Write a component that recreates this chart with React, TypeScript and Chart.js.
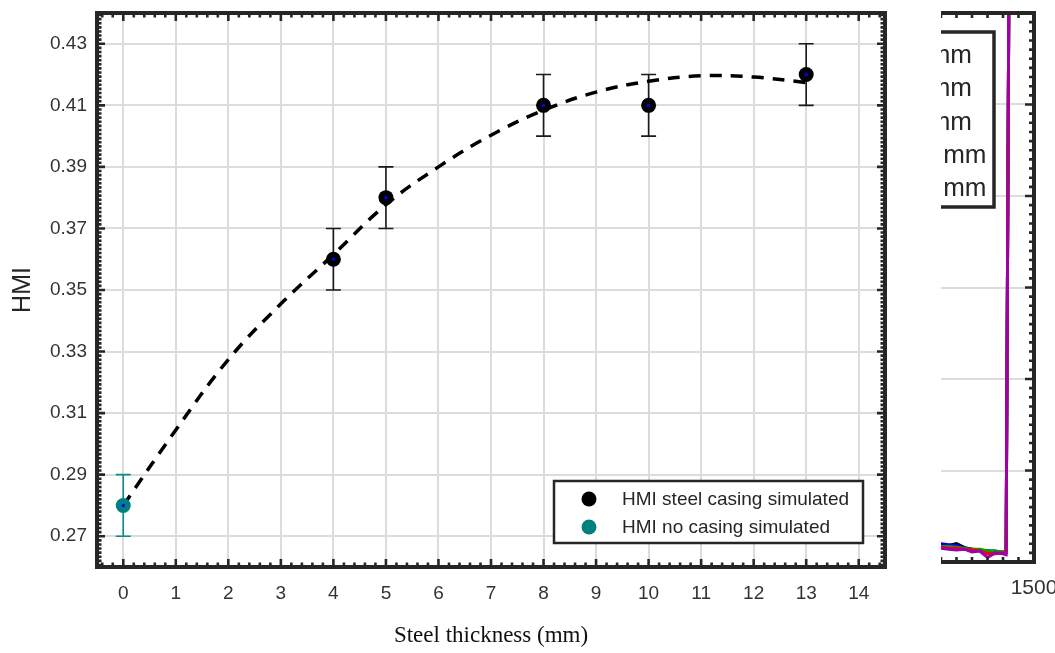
import { useEffect, useRef } from "react";
import { Chart, registerables } from "chart.js";

Chart.register(...registerables);

// ---------- main chart data ----------
const thicknessMm = [4, 5, 8, 10, 13];
const hmiSteel = [0.36, 0.38, 0.41, 0.41, 0.42];
const hmiSteelErr = [0.01, 0.01, 0.01, 0.01, 0.01];
const noCasingMm = [0];
const hmiNoCasing = [0.28];
const hmiNoCasingErr = [0.01];
const fitMm = [0, 1, 2, 3, 4, 5, 6, 7, 8, 9, 10, 11, 12, 13];
const fitHmi = [0.28, 0.3045, 0.3274, 0.3455, 0.3615, 0.3777, 0.39, 0.4003, 0.4084, 0.4143, 0.4178, 0.4196, 0.4192, 0.4174];
const xTickValues = [0, 1, 2, 3, 4, 5, 6, 7, 8, 9, 10, 11, 12, 13, 14];
const yTickValues = [0.27, 0.29, 0.31, 0.33, 0.35, 0.37, 0.39, 0.41, 0.43];
const legendLabels = ["HMI steel casing simulated", "HMI no casing simulated"];

// ---------- side (cropped) chart data ----------
const sideX = [1380, 1390, 1400, 1410, 1420, 1430, 1440, 1450, 1460, 1464, 1468];
const side4mm = [0.19, 0.18, 0.2, 0.16, 0.14, 0.13, 0.12, 0.11, 0.11, 0.11, 7];
const side5mm = [0.2, 0.19, 0.18, 0.15, 0.14, 0.13, 0.12, 0.12, 0.1, 0.1, 7];
const side8mm = [0.17, 0.17, 0.16, 0.15, 0.14, 0.14, 0.12, 0.12, 0.11, 0.11, 7];
const side10mm = [0.16, 0.15, 0.15, 0.14, 0.13, 0.12, 0.09, 0.09, 0.1, 0.1, 7];
const side13mm = [0.15, 0.14, 0.13, 0.14, 0.11, 0.12, 0.05, 0.1, 0.09, 0.08, 7];
const sideLabels = ["4 mm", "5 mm", "8 mm", "10 mm", "13 mm"];
const sideXTicks = [1500];
const sideYGrid = [1, 2, 3, 4, 5];

const SANS = "'Liberation Sans', Arial, Helvetica, sans-serif";
const SERIF = "'Liberation Serif', 'Times New Roman', serif";
const FRAME = "#262626";
const TEAL = "#008080";
const sideColors = ["#000000", "#0000ff", "#00a000", "#ff0000", "#a000a8"];

type FrameCfg = {
  xAnchor: number; xStep: number; xMajors: number[]; xMajorLen: number; xMinorLen: number;
  yAnchor: number; yStep: number; yMajors: number[]; yMajorLen: number; yMinorLen: number;
  lineWidth: number; tickWidth: number;
};

function makeFramePlugin(cfg: FrameCfg) {
  return {
    id: "frame",
    afterDatasetsDraw(chart: any) {
      const { ctx, chartArea: a, scales } = chart;
      const xs = scales.x;
      const ys = scales.y;
      ctx.save();
      ctx.strokeStyle = FRAME;
      ctx.lineWidth = cfg.tickWidth;
      ctx.lineCap = "butt";
      ctx.beginPath();
      const k0 = Math.ceil((xs.min - cfg.xAnchor) / cfg.xStep - 1e-6);
      const k1 = Math.floor((xs.max - cfg.xAnchor) / cfg.xStep + 1e-6);
      for (let k = k0; k <= k1; k++) {
        const v = cfg.xAnchor + k * cfg.xStep;
        const px = xs.getPixelForValue(v);
        if (px < a.left + 2 || px > a.right - 2) continue;
        const major = cfg.xMajors.some((m) => Math.abs(m - v) < cfg.xStep * 0.25);
        const len = major ? cfg.xMajorLen : cfg.xMinorLen;
        ctx.moveTo(px, a.bottom);
        ctx.lineTo(px, a.bottom - len);
        ctx.moveTo(px, a.top);
        ctx.lineTo(px, a.top + len);
      }
      const j0 = Math.ceil((ys.min - cfg.yAnchor) / cfg.yStep - 1e-6);
      const j1 = Math.floor((ys.max - cfg.yAnchor) / cfg.yStep + 1e-6);
      for (let j = j0; j <= j1; j++) {
        const v = cfg.yAnchor + j * cfg.yStep;
        const py = ys.getPixelForValue(v);
        if (py < a.top + 2 || py > a.bottom - 2) continue;
        const major = cfg.yMajors.some((m) => Math.abs(m - v) < cfg.yStep * 0.25);
        const len = major ? cfg.yMajorLen : cfg.yMinorLen;
        ctx.moveTo(a.left, py);
        ctx.lineTo(a.left + len, py);
        ctx.moveTo(a.right, py);
        ctx.lineTo(a.right - len, py);
      }
      ctx.stroke();
      ctx.lineWidth = cfg.lineWidth;
      ctx.strokeRect(a.left, a.top, a.right - a.left, a.bottom - a.top);
      ctx.restore();
    },
  };
}

const errorBarPlugin = {
  id: "errorBars",
  beforeDatasetsDraw(chart: any) {
    const { ctx, scales } = chart;
    const groups = [
      { xs: thicknessMm, ys: hmiSteel, es: hmiSteelErr, color: "#1a1a1a" },
      { xs: noCasingMm, ys: hmiNoCasing, es: hmiNoCasingErr, color: "#138a8a" },
    ];
    ctx.save();
    ctx.lineWidth = 1.6;
    for (const g of groups) {
      ctx.strokeStyle = g.color;
      ctx.beginPath();
      g.xs.forEach((xv, i) => {
        const px = scales.x.getPixelForValue(xv);
        const top = scales.y.getPixelForValue(g.ys[i] + g.es[i]);
        const bot = scales.y.getPixelForValue(g.ys[i] - g.es[i]);
        ctx.moveTo(px, top);
        ctx.lineTo(px, bot);
        ctx.moveTo(px - 7.5, top);
        ctx.lineTo(px + 7.5, top);
        ctx.moveTo(px - 7.5, bot);
        ctx.lineTo(px + 7.5, bot);
      });
      ctx.stroke();
    }
    ctx.restore();
  },
};

const mainLegendPlugin = {
  id: "mainLegend",
  afterDraw(chart: any) {
    const { ctx, chartArea: a } = chart;
    const left = a.right - 331;
    const right = a.right - 22;
    const top = a.bottom - 86;
    const bottom = a.bottom - 24;
    ctx.save();
    ctx.fillStyle = "#ffffff";
    ctx.fillRect(left, top, right - left, bottom - top);
    ctx.strokeStyle = FRAME;
    ctx.lineWidth = 2.5;
    ctx.strokeRect(left, top, right - left, bottom - top);
    const colors = ["#000000", TEAL];
    legendLabels.forEach((label, i) => {
      const cy = top + 18 + i * 28;
      ctx.fillStyle = colors[i];
      ctx.beginPath();
      ctx.arc(left + 35, cy, 7.5, 0, Math.PI * 2);
      ctx.fill();
      ctx.fillStyle = "#262626";
      ctx.font = `19px ${SANS}`;
      ctx.textAlign = "left";
      ctx.textBaseline = "middle";
      ctx.fillText(label, left + 68, cy + 1);
    });
    ctx.restore();
  },
};

const sideLegendPlugin = {
  id: "sideLegend",
  afterDraw(chart: any) {
    const { ctx, chartArea: a } = chart;
    const right = a.right - 40;
    const left = a.right - 205;
    const top = a.top + 19;
    const bottom = a.top + 194;
    ctx.save();
    ctx.fillStyle = "#ffffff";
    ctx.fillRect(left, top, right - left, bottom - top);
    ctx.strokeStyle = FRAME;
    ctx.lineWidth = 3.5;
    ctx.strokeRect(left, top, right - left, bottom - top);
    sideLabels.forEach((label, i) => {
      const cy = top + 23 + i * 33.3;
      ctx.strokeStyle = sideColors[i];
      ctx.lineWidth = 3;
      ctx.beginPath();
      ctx.moveTo(left + 12, cy);
      ctx.lineTo(left + 62, cy);
      ctx.stroke();
      ctx.fillStyle = "#262626";
      ctx.font = `26px ${SANS}`;
      ctx.textAlign = "left";
      ctx.textBaseline = "middle";
      ctx.fillText(label, a.right - 127, cy + 1);
    });
    ctx.restore();
  },
};

export default function App() {
  const mainRef = useRef<HTMLCanvasElement>(null);
  const sideRef = useRef<HTMLCanvasElement>(null);

  useEffect(() => {
    const main = new Chart(mainRef.current as HTMLCanvasElement, {
      type: "scatter",
      data: {
        datasets: [
          {
            label: "centers",
            data: [
              ...thicknessMm.map((x, i) => ({ x, y: hmiSteel[i] })),
              ...noCasingMm.map((x, i) => ({ x, y: hmiNoCasing[i] })),
            ],
            pointRadius: 1.7,
            pointBackgroundColor: "#0000ff",
            pointBorderWidth: 0,
          },
          {
            label: legendLabels[0],
            data: thicknessMm.map((x, i) => ({ x, y: hmiSteel[i] })),
            pointRadius: 7.5,
            pointBackgroundColor: "#000000",
            pointBorderWidth: 0,
          },
          {
            label: legendLabels[1],
            data: noCasingMm.map((x, i) => ({ x, y: hmiNoCasing[i] })),
            pointRadius: 7.5,
            pointBackgroundColor: TEAL,
            pointBorderWidth: 0,
          },
          {
            label: "fit",
            data: fitMm.map((x, i) => ({ x, y: fitHmi[i] })),
            showLine: true,
            pointRadius: 0,
            borderColor: "#000000",
            borderWidth: 3.5,
            borderDash: [12, 9],
            tension: 0.4,
          },
        ],
      } as any,
      options: {
        responsive: false,
        animation: false,
        events: [],
        layout: { padding: { left: 0, top: 13, right: 941 - 885, bottom: 0 } },
        plugins: { legend: { display: false }, tooltip: { enabled: false } },
        scales: {
          x: {
            type: "linear",
            min: -0.5,
            max: 14.5,
            afterBuildTicks: (s: any) => {
              s.ticks = xTickValues.map((value) => ({ value }));
            },
            afterFit: (s: any) => {
              s.height = 653 - 567;
              s.paddingLeft = 0;
              s.paddingRight = 0;
            },
            ticks: {
              callback: (v: any) => String(v),
              font: { size: 19, family: SANS },
              color: "#333333",
              padding: 15,
              maxRotation: 0,
            },
            grid: { color: "#dcdcdc", lineWidth: 2, drawTicks: false },
            border: { display: false },
            title: {
              display: true,
              text: "Steel thickness (mm)",
              font: { size: 23, family: SERIF },
              color: "#111111",
              padding: { top: 0, bottom: 3 },
            },
          },
          y: {
            type: "linear",
            min: 0.26,
            max: 0.44,
            afterBuildTicks: (s: any) => {
              s.ticks = yTickValues.map((value) => ({ value }));
            },
            afterFit: (s: any) => {
              s.width = 97;
              s.paddingTop = 0;
              s.paddingBottom = 0;
            },
            ticks: {
              callback: (v: any) => Number(v).toFixed(2),
              font: { size: 19, family: SANS },
              color: "#333333",
              padding: 10,
            },
            grid: { color: "#dcdcdc", lineWidth: 2, drawTicks: false },
            border: { display: false },
            title: {
              display: true,
              text: "HMI",
              font: { size: 25, family: SANS },
              color: "#262626",
              padding: { top: 8, bottom: 0 },
            },
          },
        },
      } as any,
      plugins: [
        errorBarPlugin,
        makeFramePlugin({
          xAnchor: 0, xStep: 0.2, xMajors: xTickValues, xMajorLen: 8, xMinorLen: 4.5,
          yAnchor: 0.27, yStep: 0.02 / 15, yMajors: yTickValues, yMajorLen: 8, yMinorLen: 4.5,
          lineWidth: 4, tickWidth: 2.6,
        }),
        mainLegendPlugin,
      ] as any,
    });

    const sideSeries = [side4mm, side5mm, side8mm, side10mm, side13mm];
    const side = new Chart(sideRef.current as HTMLCanvasElement, {
      type: "scatter",
      data: {
        datasets: sideSeries.map((vals, i) => ({
          label: sideLabels[i],
          data: sideX.map((x, j) => ({ x, y: vals[j] })),
          showLine: true,
          pointRadius: 0,
          borderColor: sideColors[i],
          borderWidth: 3,
          tension: 0,
          order: sideSeries.length - i,
        })),
      } as any,
      options: {
        responsive: false,
        animation: false,
        events: [],
        layout: { padding: { left: 0, top: 13, right: 1101 - 1034, bottom: 0 } },
        plugins: { legend: { display: false }, tooltip: { enabled: false } },
        scales: {
          x: {
            type: "linear",
            min: 1000,
            max: 1500,
            afterBuildTicks: (s: any) => {
              s.ticks = sideXTicks.map((value) => ({ value }));
            },
            afterFit: (s: any) => {
              s.height = 653 - 562;
              s.paddingLeft = 0;
              s.paddingRight = 0;
            },
            ticks: {
              callback: (v: any) => String(v),
              font: { size: 21, family: SANS },
              color: "#333333",
              padding: 14,
              maxRotation: 0,
            },
            grid: { display: false, drawTicks: false },
            border: { display: false },
          },
          y: {
            type: "linear",
            min: 0,
            max: 6,
            afterBuildTicks: (s: any) => {
              s.ticks = sideYGrid.map((value) => ({ value }));
            },
            afterFit: (s: any) => {
              s.width = 105.5;
              s.paddingTop = 0;
              s.paddingBottom = 0;
            },
            ticks: { display: false },
            grid: { color: "#dcdcdc", lineWidth: 2, drawTicks: false },
            border: { display: false },
          },
        },
      } as any,
      plugins: [
        makeFramePlugin({
          xAnchor: 1500, xStep: 20, xMajors: [], xMajorLen: 8, xMinorLen: 5,
          yAnchor: 0, yStep: 0.1, yMajors: sideYGrid, yMajorLen: 9, yMinorLen: 5,
          lineWidth: 4, tickWidth: 2.6,
        }),
        sideLegendPlugin,
      ] as any,
    });

    return () => {
      main.destroy();
      side.destroy();
    };
  }, []);

  return (
    <div style={{ position: "absolute", left: 0, top: 0, width: 1055, height: 653, background: "#ffffff", overflow: "hidden" }}>
      <canvas ref={mainRef} width={941} height={653} style={{ position: "absolute", left: 0, top: 0 }} />
      <div style={{ position: "absolute", left: 941, top: 0, width: 114, height: 653, overflow: "hidden" }}>
        <canvas ref={sideRef} width={560} height={653} style={{ position: "absolute", left: -400, top: 0 }} />
      </div>
    </div>
  );
}
